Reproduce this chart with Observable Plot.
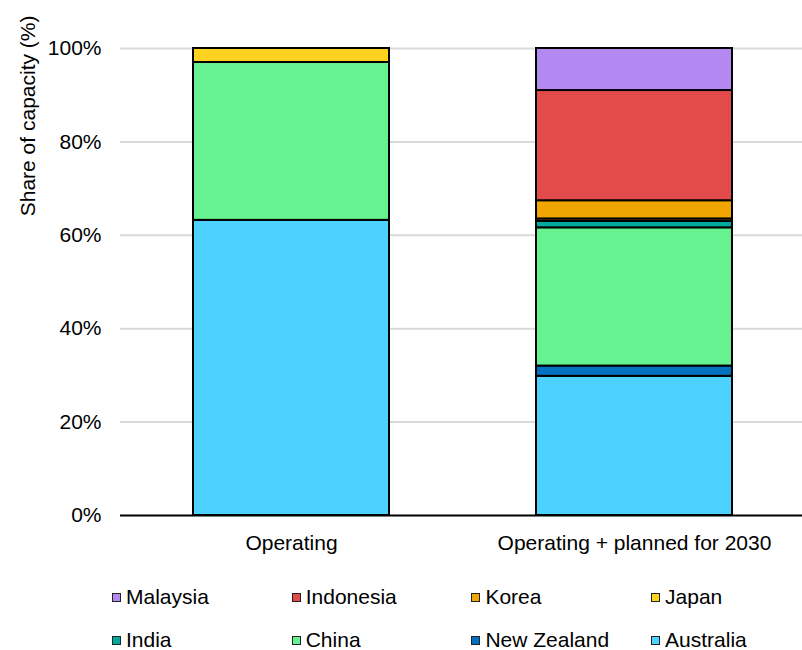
<!DOCTYPE html>
<html>
<head>
<meta charset="utf-8">
<script src="https://cdn.jsdelivr.net/npm/d3@7"></script>
<script src="https://cdn.jsdelivr.net/npm/@observablehq/plot@0.6"></script>
<style>
  body { margin: 0; background: #fff; font-family: "Liberation Sans", Arial, sans-serif; }
  #wrap { width: 802px; }
  .legend { display: grid; grid-template-columns: 179.7px 179.7px 179.7px 179.7px; padding-left: 112px; row-gap: 19px; margin-top: 15px; }
  .item { display: flex; align-items: center; font-size: 21px; color: #000; height: 24px; }
  .sw { width: 7px; height: 7px; border: 1.5px solid #222; margin-right: 5px; }
</style>
</head>
<body>
<div id="wrap"></div>
<script>
const categories = ["Operating", "Operating + planned for 2030"];
// stack order bottom to top
const series = ["Australia", "New Zealand", "China", "India", "Japan", "Korea", "Indonesia", "Malaysia"];
const australia = [63.2, 29.8];
const newZealand = [0, 2.2];
const china = [33.8, 29.6];
const india = [0, 1.4];
const japan = [3.0, 0.5];
const korea = [0, 3.9];
const indonesia = [0, 23.6];
const malaysia = [0, 9.0];
const colors = ["#4dd2ff", "#0070c0", "#66f291", "#00a99d", "#ffd21f", "#f0a500", "#e34b4b", "#b388f0"];
const legendOrder = ["Malaysia", "Indonesia", "Korea", "Japan", "India", "China", "New Zealand", "Australia"];
const yTicks = [0, 20, 40, 60, 80, 100];

const valuesBySeries = [australia, newZealand, china, india, japan, korea, indonesia, malaysia];
const rows = [];
series.forEach((s, i) => {
  categories.forEach((c, j) => {
    if (valuesBySeries[i][j] > 0) rows.push({category: c, country: s, value: valuesBySeries[i][j]});
  });
});

const chart = Plot.plot({
  width: 802,
  height: 570,
  marginLeft: 120,
  marginRight: 0,
  marginTop: 48,
  marginBottom: 55,
  style: {fontFamily: "'Liberation Sans', Arial, sans-serif", fontSize: "21px", color: "#000", background: "#fff"},
  x: {domain: categories, paddingInner: 0.4286, paddingOuter: 0.2084, align: 0.51, label: null, tickSize: 0, tickPadding: 20},
  y: {domain: [0, 100], label: null, ticks: yTicks, tickFormat: d => d + "%", tickSize: 0, tickPadding: 19},
  color: {domain: series, range: colors},
  marks: [
    Plot.gridY(yTicks.filter(d => d > 0), {stroke: "#d9d9d9", strokeOpacity: 1, strokeWidth: 2}),
    Plot.barY(rows, {x: "category", y: "value", fill: "country", stroke: "#000", strokeWidth: 2, order: null, inset: 0}),
    Plot.ruleY([0], {stroke: "#000", strokeWidth: 2}),
    Plot.text(["Share of capacity (%)"], {frameAnchor: "top-left", rotate: -90, textAnchor: "end", dx: -100, dy: -33, fontSize: 21, fill: "#000"})
  ]
});

const wrap = document.getElementById("wrap");
wrap.appendChild(chart);
const legend = document.createElement("div");
legend.className = "legend";
legendOrder.forEach(name => {
  const item = document.createElement("div");
  item.className = "item";
  const sw = document.createElement("span");
  sw.className = "sw";
  sw.style.background = colors[series.indexOf(name)];
  item.appendChild(sw);
  item.appendChild(document.createTextNode(name));
  legend.appendChild(item);
});
wrap.appendChild(legend);
</script>
</body>
</html>
